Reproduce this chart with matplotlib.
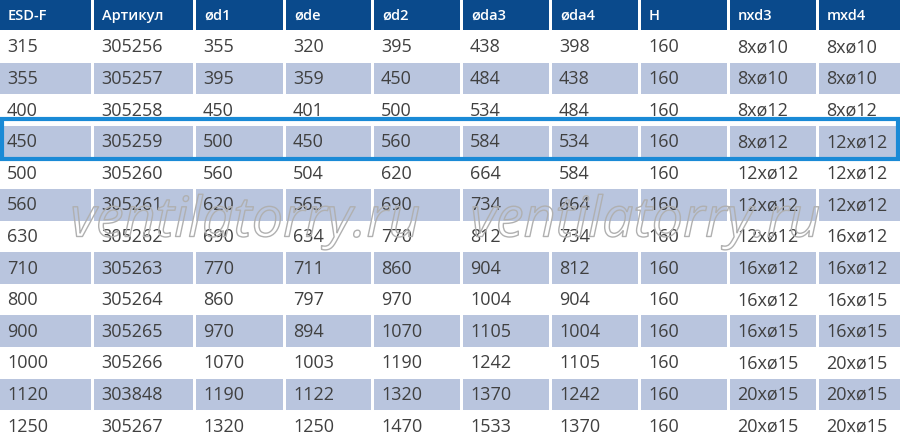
import matplotlib
matplotlib.use("Agg")
import matplotlib.pyplot as plt
from matplotlib.patches import Rectangle
import matplotlib.patheffects as pe

headers = ["ESD-F", "Артикул", "ød1", "øde", "ød2", "øda3", "øda4", "H", "nxd3", "mxd4"]
esd_f = ["315", "355", "400", "450", "500", "560", "630", "710", "800", "900", "1000", "1120", "1250"]
artikul = ["305256", "305257", "305258", "305259", "305260", "305261", "305262", "305263", "305264",
           "305265", "305266", "303848", "305267"]
d1 = ["355", "395", "450", "500", "560", "620", "690", "770", "860", "970", "1070", "1190", "1320"]
de = ["320", "359", "401", "450", "504", "565", "634", "711", "797", "894", "1003", "1122", "1250"]
d2 = ["395", "450", "500", "560", "620", "690", "770", "860", "970", "1070", "1190", "1320", "1470"]
da3 = ["438", "484", "534", "584", "664", "734", "812", "904", "1004", "1105", "1242", "1370", "1533"]
da4 = ["398", "438", "484", "534", "584", "664", "734", "812", "904", "1004", "1105", "1242", "1370"]
h = ["160"] * 13
nxd3 = ["8xø10", "8xø10", "8xø12", "8xø12", "12xø12", "12xø12", "12xø12", "16xø12", "16xø12",
        "16xø15", "16xø15", "20xø15", "20xø15"]
mxd4 = ["8xø10", "8xø10", "8xø12", "12xø12", "12xø12", "12xø12", "16xø12", "16xø12", "16xø15",
        "16xø15", "20xø15", "20xø15", "20xø15"]
highlight_row = 3

columns = [esd_f, artikul, d1, de, d2, da3, da4, h, nxd3, mxd4]

# layout (pixels)
W, H = 900, 443
col_left = [0, 94, 196, 286, 374, 463, 552, 641, 730, 819]
col_right = [91, 193, 283, 371, 460, 549, 638, 727, 816, 900]
header_h = 30
row_top0 = 31
row_h = 31.6

HEADER_C = "#0a4a8c"
BAND_C = "#b9c5de"
TEXT_C = "#404040"
HL_C = "#1a8ad6"

fig = plt.figure(figsize=(W / 100, H / 100), dpi=100)
ax = fig.add_axes([0, 0, 1, 1])
ax.set_xlim(0, W)
ax.set_ylim(H, 0)
ax.axis("off")
fig.patch.set_facecolor("white")

font = "Open Sans"

# header
for j, name in enumerate(headers):
    ax.add_patch(Rectangle((col_left[j], 0), col_right[j] - col_left[j], header_h,
                           facecolor=HEADER_C, edgecolor="none"))
    ax.text(col_left[j] + 8, header_h / 2 + 0.5, name, color="white", fontsize=10.5,
            fontweight="semibold", family=font, va="center", ha="left")

n_rows = len(esd_f)
for i in range(n_rows):
    y0 = row_top0 + i * row_h
    for j, col in enumerate(columns):
        if i % 2 == 1:
            ax.add_patch(Rectangle((col_left[j], y0), col_right[j] - col_left[j], row_h,
                                   facecolor=BAND_C, edgecolor="none"))
        ax.text(col_left[j] + 7, y0 + row_h / 2 + 0.5, col[i], color=TEXT_C, fontsize=13,
                family=font, va="center", ha="left")

# highlight box
yh = row_top0 + highlight_row * row_h
ax.add_patch(Rectangle((2, yh - 6.5), W - 4, row_h + 8, facecolor="none",
                       edgecolor=HL_C, linewidth=3))

# watermarks
for cx in (245, 645):
    ax.text(cx, 222, "ventilatorry.ru", fontsize=40, family=font, style="italic",
            color=(1, 1, 1, 0), ha="center", va="center",
            path_effects=[pe.withStroke(linewidth=1.0, foreground="#b0b0b0")])

fig.savefig("out.png", dpi=100, facecolor="white")
